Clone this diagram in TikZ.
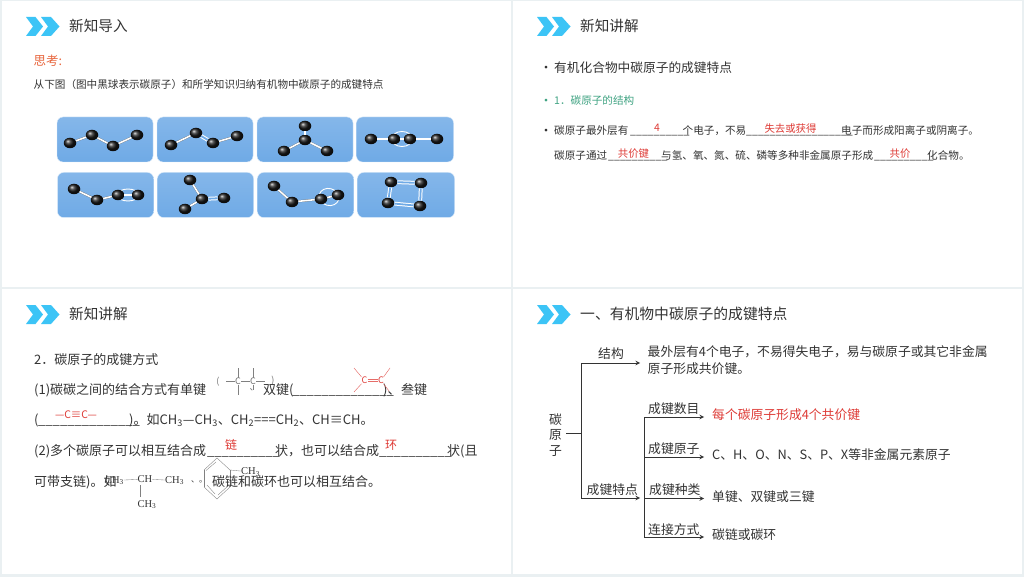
\documentclass[tikz,border=0pt]{standalone}
\usepackage{fontspec}
\setmainfont{Noto Sans CJK SC}
\newfontfamily\chemfont{Liberation Serif}
\usetikzlibrary{shapes.geometric}
\definecolor{pagegrey}{HTML}{EAF0F2}
\definecolor{chevblue}{HTML}{3CC4F6}
\definecolor{molblue}{HTML}{6FAAE6}
\definecolor{inkgrey}{HTML}{333333}
\definecolor{ansred}{HTML}{DE3B36}
\definecolor{thinkred}{HTML}{E8673F}
\definecolor{headgreen}{HTML}{3FA382}
\begin{document}
\begin{tikzpicture}[x=1pt,y=-1pt]
      \useasboundingbox(0,0) rectangle (1024,577);
      \tikzset{chev/.style = {fill=chevblue}}
      \tikzset{T/.style = {anchor=base west,inner sep=0,text=inkgrey,font=\fontsize{10.6}{12}\selectfont}}
      \tikzset{H/.style = {T,font=\fontsize{14.6}{16}\selectfont}}
      \tikzset{B/.style = {T,font=\fontsize{12.8}{15}\selectfont}}
      \tikzset{P/.style = {T,font=\fontsize{13}{15}\selectfont}}
      \tikzset{Y/.style = {anchor=base,inner sep=0,text=inkgrey,font=\fontsize{13}{15}\selectfont}}
      \tikzset{A/.style = {inner sep=0,text=ansred,font=\fontsize{10.4}{12}\selectfont}}
      \tikzset{F/.style = {inner sep=0,text=inkgrey,font=\chemfont\fontsize{10.5}{12}\selectfont}}
      \tikzset{C/.style = {inner sep=0,text=black!55,font=\fontsize{9}{10}\selectfont}}
      \tikzset{M/.style = {draw=white!75!molblue,line width=.4pt,top color=molblue!85!white,bottom color=molblue,rounded corners=6pt,minimum width=96,minimum height=45,inner sep=0}}
      \tikzset{O/.style = {shape=ellipse,inner sep=0,minimum width=12.5,minimum height=10.5,ball color=black!90}}
      \tikzset{R/.style = {shape=ellipse,draw=white,line width=.9pt,inner sep=0}}
      \tikzset{S/.style = {draw=black!60,double=white,double distance=1.6pt,line width=.25pt}}
      \tikzset{D/.style = {draw=white,double=molblue,double distance=1.8pt,line width=1pt}}
      \tikzset{L/.style = {draw=inkgrey,line width=1pt}}
      \tikzset{E/.style = {L,->,>=stealth}}
      \tikzset{G/.style = {draw=black!50,line width=.35pt}}
      \tikzset{Rb/.style = {draw=ansred!75,line width=.45pt}}
      % slides
      \fill[pagegrey](0,0) rectangle (1024,577);
      \fill[white](2,1) rectangle (511,287);
      \fill[white](513,1) rectangle (1022,287);
      \fill[white](2,289) rectangle (511,574);
      \fill[white](513,289) rectangle (1022,574);
      % chevrons
      \fill[chev](26,17)--(35.5,17)--(43,26.5)--(35.5,36)--(26,36)--(33,26.5)--cycle;
      \fill[chev](41,17)--(51,17)--(59.5,26.5)--(51,36)--(41,36)--(48,26.5)--cycle;
      \fill[chev,shift={(511,0)}](26,17)--(35.5,17)--(43,26.5)--(35.5,36)--(26,36)--(33,26.5)--cycle;
      \fill[chev,shift={(511,0)}](41,17)--(51,17)--(59.5,26.5)--(51,36)--(41,36)--(48,26.5)--cycle;
      \fill[chev,shift={(0,288)}](26,17)--(35.5,17)--(43,26.5)--(35.5,36)--(26,36)--(33,26.5)--cycle;
      \fill[chev,shift={(0,288)}](41,17)--(51,17)--(59.5,26.5)--(51,36)--(41,36)--(48,26.5)--cycle;
      \fill[chev,shift={(511,288)}](26,17)--(35.5,17)--(43,26.5)--(35.5,36)--(26,36)--(33,26.5)--cycle;
      \fill[chev,shift={(511,288)}](41,17)--(51,17)--(59.5,26.5)--(51,36)--(41,36)--(48,26.5)--cycle;
      % first slide
      \node[H](h1) at (69,31.5) {新知导入};
      \node[T,text=thinkred,font=\fontsize{12.5}{14}\selectfont](think) at (33.5,65.5) {思考:};
      \node[T](ask) at (33.5,89) {从下图（图中黑球表示碳原子）和所学知识归纳有机物中碳原子的成键特点};
      \node[M](m1) at (105,139.5) {};
      \node[M](m2) at (205,139.5) {};
      \node[M](m3) at (305,139.5) {};
      \node[M,minimum width=97](m4) at (405,139.5) {};
      \node[M](m5) at (105.5,195) {};
      \node[M](m6) at (205.5,195) {};
      \node[M](m7) at (305.5,195) {};
      \node[M,minimum width=97](m8) at (406,195) {};
      \node[R,minimum width=21,minimum height=15](r4) at (402,139) {};
      \node[R,minimum width=22,minimum height=12](r5) at (128,195) {};
      \node[R,minimum width=20,minimum height=17,rotate=-15](r7) at (329,197) {};
      \node[O](a1) at (70,143) {};
      \node[O](a2) at (92,135) {};
      \node[O](a3) at (113,146) {};
      \node[O](a4) at (137,135) {};
      \node[O](b1) at (171,145) {};
      \node[O](b2) at (196,133) {};
      \node[O](b3) at (213,143) {};
      \node[O](b4) at (237,136) {};
      \node[O](c0) at (305,140) {};
      \node[O](c1) at (305,126) {};
      \node[O](c2) at (284,151) {};
      \node[O](c3) at (327,151) {};
      \node[O](d1) at (371,139) {};
      \node[O](d2) at (394,139) {};
      \node[O](d3) at (410,139) {};
      \node[O](d4) at (437,139) {};
      \node[O](e1) at (74,189) {};
      \node[O](e2) at (97,200) {};
      \node[O](e3) at (118,195) {};
      \node[O](e4) at (138,195) {};
      \node[O](f1) at (190,180) {};
      \node[O](f2) at (202,199) {};
      \node[O](f3) at (224,198) {};
      \node[O](f4) at (185,209) {};
      \node[O](g1) at (274,186) {};
      \node[O](g2) at (292,202) {};
      \node[O](g3) at (321,199) {};
      \node[O](g4) at (338,195) {};
      \node[O](k1) at (391,182) {};
      \node[O](k2) at (421,183) {};
      \node[O](k3) at (420,206) {};
      \node[O](k4) at (388,203) {};
      \draw[S](a1) to (a2);
      \draw[S](a2) to (a3);
      \draw[S](a3) to (a4);
      \draw[S](b1) to (b2);
      \draw[D](b2) to (b3);
      \draw[S](b3) to (b4);
      \draw[S](c0) to (c1);
      \draw[S](c0) to (c2);
      \draw[S](c0) to (c3);
      \draw[S](d1) to (d2);
      \draw[S](d2) to (d3);
      \draw[S](d3) to (d4);
      \draw[S](e1) to (e2);
      \draw[S](e2) to (e3);
      \draw[S](e3) to (e4);
      \draw[S](f1) to (f2);
      \draw[D](f2) to (f3);
      \draw[S](f2) to (f4);
      \draw[S](g1) to (g2);
      \draw[S](g2) to (g3);
      \draw[S](g3) to (g4);
      \draw[D](k1) to (k2);
      \draw[D](k2) to (k3);
      \draw[D](k3) to (k4);
      \draw[D](k4) to (k1);
      % second slide
      \node[H](h2) at (580,31.5) {新知讲解};
      \node[Y](dot1) at (546,72.5) {•};
      \node[T,font=\fontsize{12.7}{15}\selectfont](t1) at (554,73) {有机化合物中碳原子的成键特点};
      \node[Y,text=headgreen](dot2) at (546,105.5) {•};
      \node[T,text=headgreen](t2) at (554,105) {1．碳原子的结构};
      \node[Y](dot3) at (546,135.5) {•};
      \node[T](t3a) at (554,135) {碳原子最外层有};
      \node[T](u1) at (630,135) {\_\_\_\_\_\_\_\_\_\_};
      \node[T](t3b) at (682.5,135) {个电子，不易};
      \node[T](u2) at (746,135) {\_\_\_\_\_\_\_\_\_\_\_\_\_\_\_\_\_\_};
      \node[T](t3c) at (841,135) {电子而形成阳离子或阴离子。};
      \node[T](t4a) at (554,160) {碳原子通过};
      \node[T](u3) at (608,160) {\_\_\_\_\_\_\_\_\_\_};
      \node[T](t4b) at (661,160) {与氢、氧、氮、硫、磷等多种非金属原子形成};
      \node[T](u4) at (874,160) {\_\_\_\_\_\_\_\_\_\_};
      \node[T](t4c) at (927,160) {化合物。};
      \node[A](a1t) at (657,127.5) {4};
      \node[A](a2t) at (790.5,129) {失去或获得};
      \node[A](a3t) at (633.5,154) {共价键};
      \node[A](a4t) at (900,154) {共价};
      % third slide
      \node[H](h3) at (69,319.5) {新知讲解};
      \node[P](p1) at (34,364) {2．碳原子的成键方式};
      \node[P](p2a) at (34,394) {(1)碳碳之间的结合方式有单键};
      \node[C](pl) at (218,381.5) {(};
      \node[C](c1t) at (238,381.5) {C};
      \node[C](c2t) at (253,381.5) {C};
      \node[C](pr) at (273,380.5) {)};
      \node[C](cm) at (254,390) {、};
      \coordinate(c1l) at (226,381.5);
      \coordinate(c2r) at (265,381.5);
      \coordinate(c1u) at (238,368);
      \coordinate(c1d) at (238,395);
      \coordinate(c2u) at (253,368);
      \coordinate(c2d) at (253,390);
      \draw[G](c1l) to (c1t);
      \draw[G](c1t) to (c2t);
      \draw[G](c2t) to (c2r);
      \draw[G](c1t) to (c1u);
      \draw[G](c1t) to (c1d);
      \draw[G](c2t) to (c2u);
      \draw[G](c2t) to (c2d);
      \node[P](p2b) at (263,394) {双键(};
      \node[P](u5) at (292,394) {\_\_\_\_\_\_\_\_\_\_\_\_\_\_};
      \node[P](p2c) at (383,394) {)、};
      \node[P](p2d) at (401,394) {叁键};
      \node[A,font=\fontsize{9}{10}\selectfont](r1) at (364.5,380.5) {C};
      \node[A,font=\fontsize{9}{10}\selectfont](r2) at (381,380.5) {C};
      \coordinate(rul) at (354,368);
      \coordinate(rdl) at (354,392);
      \coordinate(rur) at (390,368);
      \coordinate(rdr) at (389,391);
      \draw[Rb,line width=.6pt,double=white,double distance=.9pt](r1.east) to (r2.west);
      \draw[Rb](r1) to (rul);
      \draw[Rb](r1) to (rdl);
      \draw[Rb](r2) to (rur);
      \draw[Rb](r2) to (rdr);
      \node[P](p3a) at (34,424.5) {(};
      \node[P](u6) at (38,424.5) {\_\_\_\_\_\_\_\_\_\_\_\_\_\_};
      \node[P](p3b) at (129,424.5) {)。如CH\textsubscript{3}—CH\textsubscript{3}、CH\textsubscript{2}===CH\textsubscript{2}、CH≡CH。};
      \node[A](r3) at (76,414.5) {—C≡C—};
      \node[P](p4a) at (34,455) {(2)多个碳原子可以相互结合成};
      \node[P](u7) at (207,455) {\_\_\_\_\_\_\_\_\_\_};
      \node[P](p4b) at (275,455) {状，也可以结合成};
      \node[P](u8) at (379,455) {\_\_\_\_\_\_\_\_\_\_};
      \node[P](p4c) at (447,455) {状(且};
      \node[A,font=\fontsize{12}{14}\selectfont](r4t) at (231,445) {链};
      \node[A,font=\fontsize{12}{14}\selectfont](r5t) at (391,445) {环};
      \node[P](p5a) at (34,486) {可带支链)。如};
      \node[F,anchor=east](f1t) at (124,480.5) {CH\textsubscript{3}};
      \node[F](f2t) at (145,479) {CH};
      \node[F,anchor=west](f3t) at (165,480.5) {CH\textsubscript{3}};
      \node[F](f4t) at (147,504.5) {CH\textsubscript{3}};
      \coordinate(f2d) at (140,497);
      \coordinate(f2u) at (140,485);
      \draw[G](f1t) to (f2t);
      \draw[G](f2t) to (f3t);
      \draw[G](f2u) to (f2d);
      \node[C,text=inkgrey,font=\fontsize{8}{9}\selectfont](cm2) at (199,482) {、。};
      \coordinate(v1) at (217,458);
      \coordinate(v2) at (230,470);
      \coordinate(v3) at (230,487);
      \coordinate(v4) at (217,499);
      \coordinate(v5) at (204,487);
      \coordinate(v6) at (204,470);
      \coordinate(w1) at (216,462);
      \coordinate(w2) at (206,470.5);
      \coordinate(w3) at (228,486);
      \coordinate(w4) at (218,495);
      \coordinate(w5) at (207,485);
      \coordinate(w6) at (215,494);
      \draw[G](v1) to (v2);
      \draw[G](v2) to (v3);
      \draw[G](v3) to (v4);
      \draw[G](v4) to (v5);
      \draw[G](v5) to (v6);
      \draw[G](v6) to (v1);
      \draw[G](w1) to (w2);
      \draw[G](w3) to (w4);
      \draw[G](w5) to (w6);
      \node[F,anchor=west](f5t) at (241,472) {CH\textsubscript{3}};
      \draw[G](v2) to (f5t);
      \node[P](p5b) at (212,486) {碳链和碳环也可以相互结合。};
      % fourth slide
      \node[H,font=\fontsize{14.8}{16}\selectfont](h4) at (580,319.5) {一、有机物中碳原子的成键特点};
      \node[inner sep=0,inner xsep=4,align=center,text=inkgrey,font=\fontsize{12.8}{15.5}\selectfont](root) at (555.5,435) {碳\\原\\子};
      \coordinate(j0) at (581,433);
      \coordinate(j1) at (581,363);
      \coordinate(j2) at (581,498);
      \coordinate(e1r) at (640,363);
      \coordinate(e2r) at (640,498);
      \coordinate(j3) at (644,417);
      \coordinate(j4) at (644,457);
      \coordinate(j5) at (644,498.5);
      \coordinate(j6) at (644,537);
      \coordinate(e3r) at (704,417);
      \coordinate(e4r) at (704,457);
      \coordinate(e5r) at (704,498.5);
      \coordinate(e6r) at (704,537);
      \draw[L](root.east |- j0) to (j0);
      \draw[L,line cap=rect](j1) to (j2);
      \draw[E](j1) to (e1r);
      \draw[E](j2) to (e2r);
      \draw[L,line cap=rect](j3) to (j6);
      \draw[E](j3) to (e3r);
      \draw[E](j4) to (e4r);
      \draw[E](j5) to (e5r);
      \draw[E](j6) to (e6r);
      \node[B](l1) at (598,358) {结构};
      \node[B](l2) at (586.5,494) {成键特点};
      \node[B](l3) at (648,413) {成键数目};
      \node[B](l4) at (648,453) {成键原子};
      \node[B](l5) at (649,494) {成键种类};
      \node[B](l6) at (648,534) {连接方式};
      \node[B](n1) at (647.5,356.5) {最外层有4个电子，不易得失电子，易与碳原子或其它非金属};
      \node[B](n2) at (647.5,373.5) {原子形成共价键。};
      \node[B,text=ansred](n3) at (712,419.5) {每个碳原子形成4个共价键};
      \node[B](n4) at (712,459) {C、H、O、N、S、P、X等非金属元素原子};
      \node[B](n5) at (712,501.5) {单键、双键或三键};
      \node[B](n6) at (712,539.5) {碳链或碳环};
    \end{tikzpicture}
\end{document}
